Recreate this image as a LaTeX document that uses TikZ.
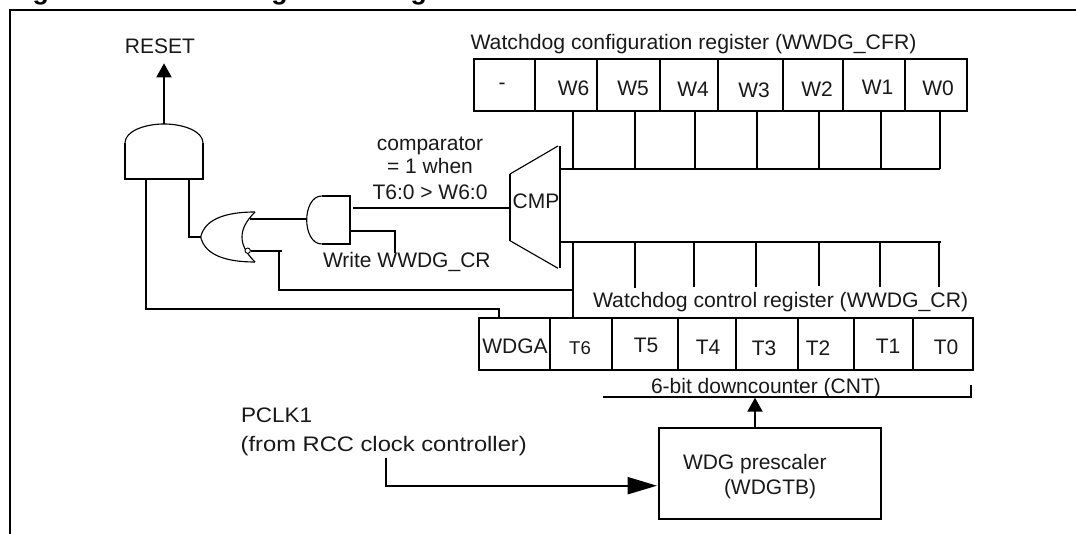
\documentclass[tikz,border=0pt]{standalone}
\usepackage{fontspec}
\setmainfont{Liberation Sans}
\usetikzlibrary{arrows.meta,calc}
\newcommand{\regcell}[5]{% name x1 x2 ytop ybottom
  \node[cellbox,minimum width={(#3-#2)*0.75pt},minimum height={(#5-#4)*0.75pt}] (#1) at ({(#2+#3)/2},{(#4+#5)/2}) {};}
\tikzset{
  x=0.75pt,y=-0.75pt,
  thick line/.style={line width=1.5pt,line join=miter},
  thin line/.style={line width=0.85pt},
  cellbox/.style={draw,line width=1.5pt,inner sep=0pt,outer sep=0pt},
  lbl/.style={font=\fontsize{15.75}{18}\selectfont,inner sep=0pt,outer sep=0pt,text=black!90},
  lblsmall/.style={font=\fontsize{13.9}{16}\selectfont,inner sep=0pt,outer sep=0pt,text=black!90},
  stretched/.style={transform shape,xscale=#1},
  title/.style={font=\fontsize{20}{24}\selectfont\bfseries,inner sep=0pt,outer sep=0pt},
  headup/.style={-{Triangle[length=10.5pt,width=11.25pt]}},
  headright/.style={-{Triangle[length=22pt,width=12.75pt]}},
}
\begin{document}
\begin{tikzpicture}
\clip (0,0) rectangle (1076,534);
\useasboundingbox (0,0) rectangle (1076,534);
\fill[white] (0,0) rectangle (1076,534);
% title and frame
\node[title,anchor=base west] (ttl) at (9,0) {Figure 355. Watchdog block diagram};
\coordinate (frameA) at (10,534);
\coordinate (frameB) at (10,10);
\coordinate (frameC) at (1076,10);
\draw[thick line] (frameA) -- (frameB) -- (frameC);
% configuration register
\node[lbl,stretched=1.01,anchor=base west] (cfrlbl) at (470.5,50) {Watchdog configuration register (WWDG\_CFR)};
\regcell{cX}{473.5}{535}{59.3}{110.7}
\regcell{cW6}{535}{597}{59.3}{110.7}
\regcell{cW5}{597}{659.5}{59.3}{110.7}
\regcell{cW4}{659.5}{718}{59.3}{110.7}
\regcell{cW3}{718}{782.5}{59.3}{110.7}
\regcell{cW2}{782.5}{843}{59.3}{110.7}
\regcell{cW1}{843}{905}{59.3}{110.7}
\regcell{cW0}{905}{967}{59.3}{110.7}
\node[lbl] (tX) at (502,86) {-};
\node[lbl] (tW6) at (573.6,88.3) {W6};
\node[lbl] (tW5) at (633,88) {W5};
\node[lbl] (tW4) at (693,89) {W4};
\node[lbl] (tW3) at (754,90) {W3};
\node[lbl] (tW2) at (817,89) {W2};
\node[lbl] (tW1) at (877.5,87.7) {W1};
\node[lbl] (tW0) at (938,88.3) {W0};
% upper bus
\coordinate (ub0) at (559,169);
\coordinate (ub6) at (573,169);
\coordinate (ub5) at (635,169);
\coordinate (ub4) at (695,169);
\coordinate (ub3) at (757,169);
\coordinate (ub2) at (819,169);
\coordinate (ub1) at (881,169);
\coordinate (ubE) at (939.5,169);
\draw[thick line] (ub0) -- (ubE);
\draw[thick line] (cW6.south -| ub6) -- (ub6);
\draw[thick line] (cW5.south -| ub5) -- (ub5);
\draw[thick line] (cW4.south -| ub4) -- (ub4);
\draw[thick line] (cW3.south -| ub3) -- (ub3);
\draw[thick line] (cW2.south -| ub2) -- (ub2);
\draw[thick line] (cW1.south -| ub1) -- (ub1);
\draw[thick line] (cW0.south -| ubE) -- (ubE);
% comparator
\coordinate (cmpA) at (510,174);
\coordinate (cmpB) at (558,146);
\coordinate (cmpC) at (560,146);
\coordinate (cmpD) at (560,268.3);
\coordinate (cmpE) at (558,268.3);
\coordinate (cmpF) at (510,240.7);
\draw[thick line] (cmpA) -- (cmpF);
\draw[thick line] (cmpC) -- (cmpD);
\draw[thin line] (cmpA) -- (cmpB);
\draw[thin line] (cmpF) -- (cmpE);
\node[lbl,anchor=base] (cmplbl) at (536,208.3) {CMP};
\node[lbl,anchor=base] (cmp1) at (430,150.7) {comparator};
\node[lbl,anchor=base] (cmp2) at (430,174) {= 1 when};
\node[lbl,anchor=base] (cmp3) at (430,200) {T6:0 > W6:0};
% lower bus
\coordinate (lb0) at (560,241.7);
\coordinate (lb6) at (573,241.7);
\coordinate (lb5) at (635,241.7);
\coordinate (lb4) at (694,241.7);
\coordinate (lb3) at (756,241.7);
\coordinate (lb2) at (819,241.7);
\coordinate (lb1) at (880,241.7);
\coordinate (lbE) at (941,241.7);
\coordinate (le5) at (635,288);
\coordinate (le4) at (694,287);
\coordinate (le3) at (756,287);
\coordinate (le2) at (819,286.5);
\coordinate (le1) at (880,287);
\coordinate (le0) at (939,287);
\draw[thick line] (lb0) -- (lbE);
\draw[thick line] (lb5) -- (le5);
\draw[thick line] (lb4) -- (le4);
\draw[thick line] (lb3) -- (le3);
\draw[thick line] (lb2) -- (le2);
\draw[thick line] (lb1) -- (le1);
\draw[thick line] (le0 |- lb0) -- (le0);
% control register
\node[lbl,stretched=1.01,anchor=base west] (crlbl) at (593,307.7) {Watchdog control register (WWDG\_CR)};
\regcell{cA}{478.6}{550}{318.3}{369.7}
\regcell{cT6}{550}{612}{318.3}{369.7}
\regcell{cT5}{612}{678}{318.3}{369.7}
\regcell{cT4}{678}{736}{318.3}{369.7}
\regcell{cT3}{736}{798}{318.3}{369.7}
\regcell{cT2}{798}{854}{318.3}{369.7}
\regcell{cT1}{854}{913}{318.3}{369.7}
\regcell{cT0}{913}{973}{318.3}{369.7}
\node[lbl] (tA) at (515,346.7) {WDGA};
\node[lblsmall] (tT6) at (580,347.7) {T6};
\node[lbl] (tT5) at (646,345.7) {T5};
\node[lbl] (tT4) at (708,347.7) {T4};
\node[lbl] (tT3) at (764,348.7) {T3};
\node[lbl] (tT2) at (818,348) {T2};
\node[lbl] (tT1) at (888,346) {T1};
\node[lbl] (tT0) at (946,347) {T0};
\draw[thick line] (lb6) -- (lb6 |- cT6.north);
% downcounter
\node[lbl,anchor=base west] (cntlbl) at (651,393.3) {6-bit downcounter (CNT)};
\coordinate (cntL) at (603,396.7);
\coordinate (cntR) at (971,396.7);
\coordinate (cntT) at (971,385.3);
\coordinate (cntTip) at (755,397.7);
\draw[thick line] (cntL) -- (cntR) -- (cntT);
% prescaler
\node[cellbox,minimum width={222*0.75pt},minimum height={91.6*0.75pt}] (pres) at (770,473.5) {};
\node[lbl,anchor=base west] (pr1) at (683,470) {WDG prescaler};
\node[lbl,anchor=base west] (pr2) at (724,495) {(WDGTB)};
\draw[thick line,headup] (pres.north -| cntTip) -- (cntTip);
% clock
\node[lbl,stretched=1.07,anchor=base west] (pclk) at (241,423) {PCLK1};
\node[lbl,stretched=1.13,anchor=base west] (pclk2) at (240.7,451.7) {(from RCC clock controller)};
\coordinate (clkA) at (385.7,458);
\coordinate (clkB) at (385.7,485.7);
\coordinate (clkTip) at (657,485.7);
\draw[thick line,headright] (clkA) -- (clkB) -- (clkTip);
% big AND gate
\coordinate (andBL) at (125,179);
\coordinate (andBR) at (203,179);
\coordinate (andSL) at (125,143);
\coordinate (andSR) at (203,143);
\coordinate (andT) at (164,124);
\draw[thick line] (andSL) -- (andBL) -- (andBR) -- (andSR);
\draw[thin line] (andSL) .. controls (125,131) and (145,124) .. (andT) .. controls (183,124) and (203,131) .. (andSR);
\node[lbl,anchor=base] (reset) at (160,54) {RESET};
\coordinate (resetTip) at (164,63.3);
\draw[thick line,headup] (andT) -- (resetTip);
% WDGA feedback
\coordinate (fbA) at (146,179);
\coordinate (fbB) at (146,309);
\coordinate (fbC) at (499,309);
\draw[thick line] (fbA) -- (fbB) -- (fbC) -- (fbC |- cA.north);
% OR gate
\coordinate (orT) at (255,212);
\coordinate (orB) at (255,262);
\coordinate (orN) at (200.7,237);
\coordinate (orK) at (242,237);
\coordinate (orI1) at (250,218.7);
\draw[thin line] (orT) .. controls (228,212) and (205,218) .. (orN) .. controls (205,256) and (228,262) .. (orB);
\draw[thin line] (orT) .. controls (245,222) and (242,230) .. (orK) .. controls (242,244) and (245,252) .. (orB);
\coordinate (g2in) at (189,179);
\coordinate (g2mid) at (189,237);
\draw[thick line] (g2in) -- (g2mid) -- (orN);
\node[circle,draw,line width=0.7pt,fill=white,minimum size=4pt,inner sep=0pt] (bub) at (247.7,250.7) {};
% T6 feedback
\coordinate (t6a) at (281.7,250.7);
\coordinate (t6b) at (279.3,250.7);
\coordinate (t6c) at (279.3,290);
\coordinate (t6d) at (573,290);
\draw[thick line] (bub) -- (t6a);
\draw[thick line] (t6b) -- (t6c) -- (t6d);
% small AND gate
\coordinate (sTL) at (321.7,196);
\coordinate (sTR) at (350,196);
\coordinate (sBR) at (350,244);
\coordinate (sBL) at (321.7,244);
\coordinate (sN) at (306.7,220);
\draw[thick line] (sTL) -- (sTR) -- (sBR) -- (sBL);
\draw[thin line] (sTL) .. controls (312,196) and (306.7,208) .. (sN) .. controls (306.7,232) and (312,244) .. (sBL);
\draw[thick line] (orI1) -- (orI1 -| sN);
\coordinate (sOut) at (353,207.7);
\draw[thick line] (sOut) -- (sOut -| cmpA);
\coordinate (wrA) at (350,230.7);
\coordinate (wrB) at (395,230.7);
\coordinate (wrC) at (395,253);
\draw[thick line] (wrA) -- (wrB) -- (wrC);
\node[lbl,anchor=base west] (wr) at (323,268) {Write WWDG\_CR};
\end{tikzpicture}
\end{document}
